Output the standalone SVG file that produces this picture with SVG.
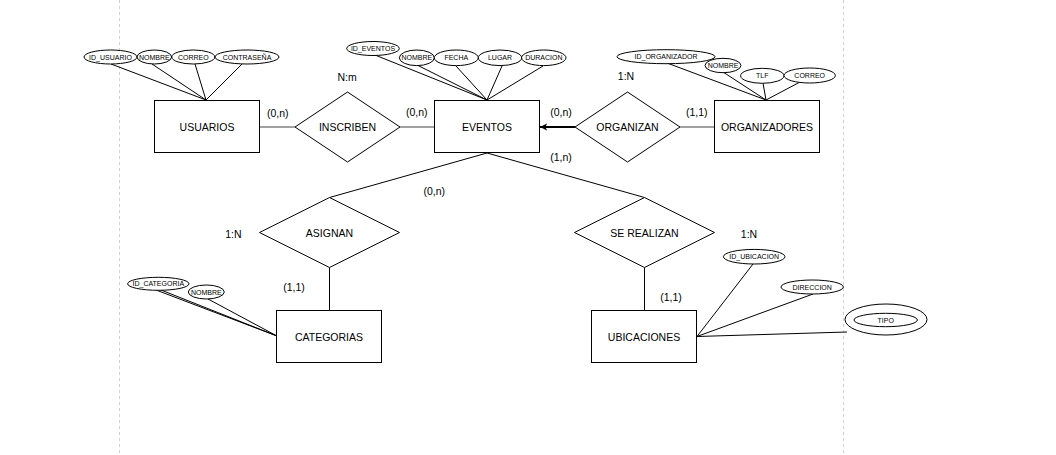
<svg xmlns="http://www.w3.org/2000/svg" width="1056" height="455" viewBox="0 0 1056 455">
<defs>
<style>
.bg{fill:#fff}
.guide{stroke:#d0d0d0;stroke-width:1;stroke-dasharray:3 3;fill:none}
.ent{fill:#fff;stroke:#000;stroke-width:1}
.rel{fill:#fff;stroke:#000;stroke-width:1}
.att{fill:#fff;stroke:#000;stroke-width:1}
.ln{stroke:#000;stroke-width:1;fill:none}
.lnm{stroke:#444;stroke-width:1.2;fill:none}
.lbl{font-family:"Liberation Sans",Arial,sans-serif;font-size:10.5px;fill:#000;text-anchor:middle;dominant-baseline:central}
.atxt{font-family:"Liberation Sans",Arial,sans-serif;font-size:7px;fill:#000;text-anchor:middle;dominant-baseline:central}
.card{font-family:"Liberation Sans",Arial,sans-serif;font-size:10.5px;fill:#000;text-anchor:middle;dominant-baseline:central}
</style>
<marker id="arr" viewBox="0 0 10 10" refX="10" refY="5" markerWidth="3.6" markerHeight="3.6" orient="auto" markerUnits="strokeWidth">
<path d="M0,0 L10,5 L0,10 L2.5,5 Z" fill="#000"/>
</marker>
</defs>
<rect class="bg" x="0" y="0" width="1056" height="455"/>
<line class="guide" x1="119.5" y1="0" x2="119.5" y2="455"/>
<line class="guide" x1="843.5" y1="0" x2="843.5" y2="455"/>

<g id="connectors">
<!-- USUARIOS attributes -->
<line class="ln" x1="111" y1="64" x2="206" y2="100"/>
<line class="ln" x1="152" y1="64" x2="206" y2="100"/>
<line class="ln" x1="195" y1="64" x2="206" y2="100"/>
<line class="ln" x1="242" y1="64" x2="206" y2="100"/>
<!-- EVENTOS attributes -->
<line class="ln" x1="375" y1="55" x2="487" y2="100"/>
<line class="ln" x1="417" y1="65" x2="487" y2="100"/>
<line class="ln" x1="456" y1="66" x2="487" y2="100"/>
<line class="ln" x1="502" y1="66" x2="487" y2="100"/>
<line class="ln" x1="543" y1="66" x2="487" y2="100"/>
<!-- ORGANIZADORES attributes -->
<line class="ln" x1="667" y1="63" x2="766" y2="100"/>
<line class="ln" x1="723" y1="72" x2="766" y2="100"/>
<line class="ln" x1="763" y1="83" x2="766" y2="100"/>
<line class="ln" x1="800" y1="82" x2="766" y2="100"/>
<!-- CATEGORIAS attributes -->
<line class="ln" x1="156" y1="290" x2="277" y2="336"/>
<line class="ln" x1="161" y1="290" x2="277" y2="336"/>
<line class="ln" x1="208" y1="299" x2="277" y2="336"/>
<!-- UBICACIONES attributes -->
<line class="ln" x1="753" y1="264" x2="697" y2="336.5"/>
<line class="ln" x1="813" y1="294" x2="697" y2="336.5"/>
<line class="ln" x1="847" y1="332" x2="697" y2="336.5"/>
<!-- relationships -->
<line class="lnm" x1="259.5" y1="127" x2="295" y2="127"/>
<line class="lnm" x1="400" y1="127" x2="434.5" y2="127"/>
<line x1="575" y1="127" x2="540" y2="127" stroke="#000" stroke-width="2" marker-end="url(#arr)"/>
<line class="lnm" x1="680" y1="127" x2="714.5" y2="127"/>
<line class="ln" x1="487" y1="153" x2="329.5" y2="197.5"/>
<line class="ln" x1="487" y1="153" x2="644.5" y2="197.5"/>
<line class="ln" x1="329.5" y1="267.5" x2="329.5" y2="310.5"/>
<line class="ln" x1="644.5" y1="267.5" x2="644.5" y2="310.5"/>
</g>

<g id="USUARIOS">
<rect class="ent" x="154.5" y="100.5" width="105" height="52"/>
<text class="lbl" x="207" y="127">USUARIOS</text>
</g>
<g id="EVENTOS">
<rect class="ent" x="434.5" y="100.5" width="105" height="52"/>
<text class="lbl" x="487" y="127">EVENTOS</text>
</g>
<g id="ORGANIZADORES">
<rect class="ent" x="714.5" y="100.5" width="105" height="52"/>
<text class="lbl" x="767" y="127">ORGANIZADORES</text>
</g>
<g id="CATEGORIAS">
<rect class="ent" x="276.5" y="310.5" width="105" height="52"/>
<text class="lbl" x="329" y="337">CATEGORIAS</text>
</g>
<g id="UBICACIONES">
<rect class="ent" x="591.5" y="310.5" width="105" height="52"/>
<text class="lbl" x="644" y="337">UBICACIONES</text>
</g>

<g id="INSCRIBEN">
<polygon class="rel" points="295,127 347.5,92 400,127 347.5,162"/>
<text class="lbl" x="347.5" y="127">INSCRIBEN</text>
</g>
<g id="ORGANIZAN">
<polygon class="rel" points="575,127 627.5,92 680,127 627.5,162"/>
<text class="lbl" x="627.5" y="127">ORGANIZAN</text>
</g>
<g id="ASIGNAN">
<polygon class="rel" points="259.5,232.5 329.5,197.5 399.5,232.5 329.5,267.5"/>
<text class="lbl" x="329.5" y="232.5">ASIGNAN</text>
</g>
<g id="SE_REALIZAN">
<polygon class="rel" points="574.5,232.5 644.5,197.5 714.5,232.5 644.5,267.5"/>
<text class="lbl" x="644.5" y="232.5">SE REALIZAN</text>
</g>

<g id="attr_ID_USUARIO"><ellipse class="att" cx="110.5" cy="57" rx="26.5" ry="7"/><text class="atxt" x="110.5" y="57">ID_USUARIO</text></g>
<g id="attr_NOMBRE_U"><ellipse class="att" cx="154.3" cy="57" rx="17.3" ry="7"/><text class="atxt" x="154.3" y="57">NOMBRE</text></g>
<g id="attr_CORREO_U"><ellipse class="att" cx="193.3" cy="57" rx="21.5" ry="7"/><text class="atxt" x="193.3" y="57">CORREO</text></g>
<g id="attr_CONTRASENA"><ellipse class="att" cx="247" cy="57" rx="32" ry="7"/><text class="atxt" x="247" y="57">CONTRASEÑA</text></g>

<g id="attr_ID_EVENTOS"><ellipse class="att" cx="373" cy="48.5" rx="26.3" ry="7"/><text class="atxt" x="373" y="48.5">ID_EVENTOS</text></g>
<g id="attr_NOMBRE_E"><ellipse class="att" cx="416.8" cy="57.8" rx="17.5" ry="7.8"/><text class="atxt" x="416.8" y="57.8">NOMBRE</text></g>
<g id="attr_FECHA"><ellipse class="att" cx="456.3" cy="57.8" rx="22" ry="7.8"/><text class="atxt" x="456.3" y="57.8">FECHA</text></g>
<g id="attr_LUGAR"><ellipse class="att" cx="500" cy="57.8" rx="21.7" ry="7.8"/><text class="atxt" x="500" y="57.8">LUGAR</text></g>
<g id="attr_DURACION"><ellipse class="att" cx="543.8" cy="57.8" rx="22.2" ry="7.8"/><text class="atxt" x="543.8" y="57.8">DURACION</text></g>

<g id="attr_ID_ORGANIZADOR"><ellipse class="att" cx="666" cy="56.7" rx="49" ry="7"/><text class="atxt" x="666" y="56.7">ID_ORGANIZADOR</text></g>
<g id="attr_NOMBRE_O"><ellipse class="att" cx="723" cy="65.5" rx="18" ry="7.2"/><text class="atxt" x="723" y="65.5">NOMBRE</text></g>
<g id="attr_TLF"><ellipse class="att" cx="762.3" cy="75.8" rx="21.7" ry="7.5"/><text class="atxt" x="762.3" y="75.8">TLF</text></g>
<g id="attr_CORREO_O"><ellipse class="att" cx="809.7" cy="75.5" rx="25.7" ry="7.5"/><text class="atxt" x="809.7" y="75.5">CORREO</text></g>

<g id="attr_ID_CATEGORIA"><ellipse class="att" cx="158.3" cy="283.8" rx="30.7" ry="6.5"/><text class="atxt" x="158.3" y="283.8">ID_CATEGORIA</text></g>
<g id="attr_NOMBRE_C"><ellipse class="att" cx="206.3" cy="292" rx="18" ry="7"/><text class="atxt" x="206.3" y="292">NOMBRE</text></g>

<g id="attr_ID_UBICACION"><ellipse class="att" cx="754.2" cy="256.7" rx="30.8" ry="7.3"/><text class="atxt" x="754.2" y="256.7">ID_UBICACION</text></g>
<g id="attr_DIRECCION"><ellipse class="att" cx="812.2" cy="287" rx="31.2" ry="7"/><text class="atxt" x="812.2" y="287">DIRECCION</text></g>
<g id="attr_TIPO">
<ellipse class="att" cx="886" cy="319.5" rx="41" ry="15.5"/>
<ellipse class="att" cx="885.7" cy="320" rx="31.7" ry="6.7"/>
<text class="atxt" x="885.7" y="320">TIPO</text>
</g>

<g id="labels">
<text class="card" x="347" y="77">N:m</text>
<text class="card" x="277.7" y="112.7">(0,n)</text>
<text class="card" x="416.7" y="112.3">(0,n)</text>
<text class="card" x="561" y="112.3">(0,n)</text>
<text class="card" x="626" y="76">1:N</text>
<text class="card" x="696.7" y="111.7">(1,1)</text>
<text class="card" x="561" y="157.3">(1,n)</text>
<text class="card" x="434.3" y="190.7">(0,n)</text>
<text class="card" x="233.3" y="234.3">1:N</text>
<text class="card" x="294" y="286.7">(1,1)</text>
<text class="card" x="749" y="234.3">1:N</text>
<text class="card" x="671" y="297">(1,1)</text>
</g>
</svg>
